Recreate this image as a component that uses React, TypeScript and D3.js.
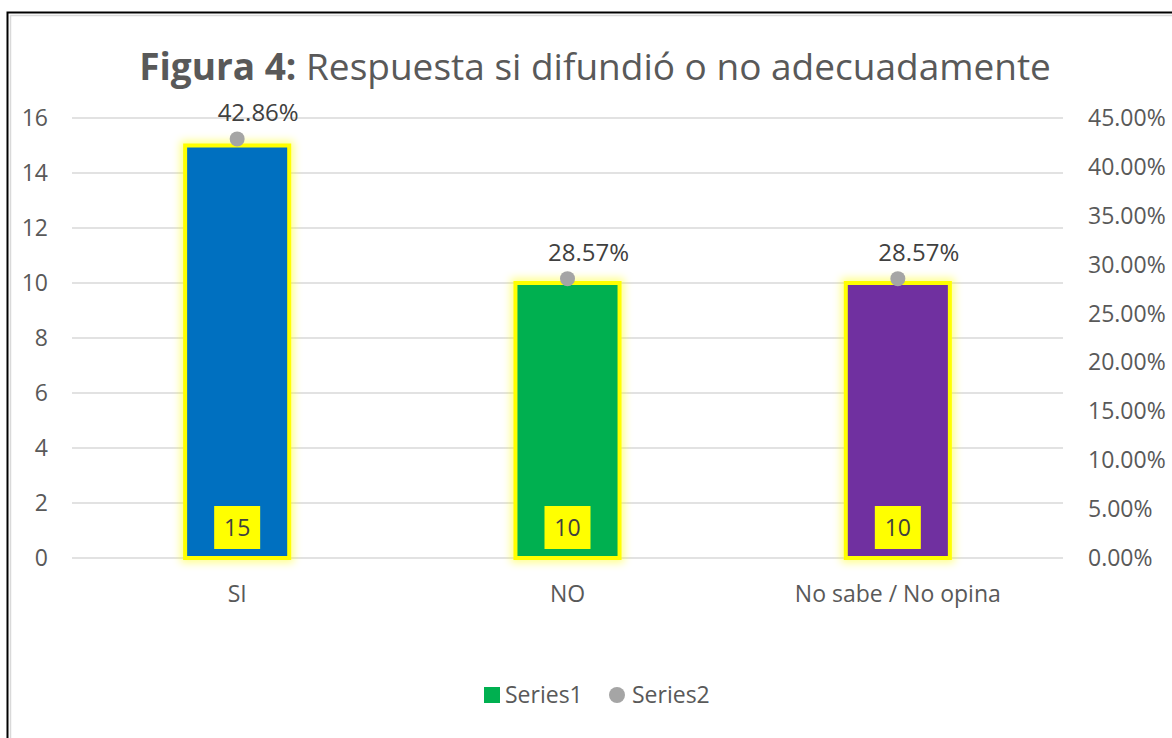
import React from "react";
import * as d3 from "d3";

const categories = ["SI", "NO", "No sabe / No opina"];
const series1 = [15, 10, 10];
const series2 = [0.4286, 0.2857, 0.2857];
const barColors = ["#0070C0", "#00B050", "#7030A0"];
const leftTicks = [0, 2, 4, 6, 8, 10, 12, 14, 16];
const rightTicks = [0, 0.05, 0.1, 0.15, 0.2, 0.25, 0.3, 0.35, 0.4, 0.45];

const W = 1172;
const H = 738;
const FONT = "'Open Sans', Lato, sans-serif";

export default function App() {
  const plotL = 72, plotR = 1063, plotT = 118, plotB = 558;
  const x = d3.scaleBand().domain(categories).range([plotL, plotR]).paddingInner(0.685).paddingOuter(0.3425);
  const y = d3.scaleLinear().domain([0, 16]).range([plotB, plotT]);
  const y2 = d3.scaleLinear().domain([0, 0.45]).range([plotB, plotT]);
  const bw = x.bandwidth();
  const fmt = d3.format(".2%");
  const fs = 23;
  return (
    <div style={{ position: "fixed", left: 0, top: 0, width: W, height: H, background: "#fff" }}>
      <svg width={W} height={H} style={{ display: "block" }}>
        <defs>
          <filter id="glow" x="-30%" y="-30%" width="160%" height="160%">
            <feGaussianBlur stdDeviation="4" />
          </filter>
        </defs>
        <rect x={0} y={0} width={W} height={H} fill="#fff" />
        <rect x={7.5} y={12.5} width={W + 20} height={H + 20} fill="none" stroke="#000" strokeWidth={2} />
        <rect x={10.5} y={15.5} width={W + 20} height={H + 20} fill="none" stroke="#d9d9d9" strokeWidth={1.5} />
        <text x={595} y={80} textAnchor="middle" fontFamily={FONT} fontSize={37} fill="#595959">
          <tspan fontWeight="bold">Figura 4:</tspan>
          <tspan> Respuesta si difundió o no adecuadamente</tspan>
        </text>
        {leftTicks.map((t) => (
          <g key={"l" + t}>
            <line x1={plotL} x2={plotR} y1={y(t)} y2={y(t)} stroke="#d9d9d9" strokeWidth={1.5} />
            <text x={48} y={y(t)} dy="0.35em" textAnchor="end" fontFamily={FONT} fontSize={fs} fill="#595959">{t}</text>
          </g>
        ))}
        {rightTicks.map((t) => (
          <text key={"r" + t} x={1088} y={y2(t)} dy="0.35em" textAnchor="start" fontFamily={FONT} fontSize={fs} fill="#595959">{fmt(t)}</text>
        ))}
        {categories.map((c, i) => {
          const bx = x(c)!;
          const by = y(series1[i]);
          const bh = y(0) - by;
          return (
            <g key={c}>
              <rect x={bx} y={by} width={bw} height={bh} fill="none" stroke="#FFFF00" strokeWidth={9} opacity={0.5} filter="url(#glow)" />
              <rect x={bx} y={by} width={bw} height={bh} fill={barColors[i]} stroke="#FFFF00" strokeWidth={4} />
              <rect x={bx + bw / 2 - 23} y={plotB - 52} width={46} height={43} fill="#FFFF00" />
              <text x={bx + bw / 2} y={plotB - 30.5} dy="0.35em" textAnchor="middle" fontFamily={FONT} fontSize={fs} fill="#404040">{series1[i]}</text>
              <text x={bx + bw / 2} y={plotB + 36} dy="0.35em" textAnchor="middle" fontFamily={FONT} fontSize={fs} fill="#595959">{c}</text>
            </g>
          );
        })}
        {categories.map((c, i) => {
          const cx = x(c)! + bw / 2;
          const cy = y2(series2[i]);
          return (
            <g key={"p" + c}>
              <circle cx={cx} cy={cy} r={7.5} fill="#A5A5A5" />
              <text x={cx + 21} y={cy - 26} dy="0.35em" textAnchor="middle" fontFamily={FONT} fontSize={24} fill="#404040">{fmt(series2[i])}</text>
            </g>
          );
        })}
        <g>
          <rect x={484} y={687} width={16} height={16} fill="#00B050" />
          <text x={505} y={695} dy="0.35em" fontFamily={FONT} fontSize={fs} fill="#595959">Series1</text>
          <circle cx={617} cy={695} r={8} fill="#A5A5A5" />
          <text x={632} y={695} dy="0.35em" fontFamily={FONT} fontSize={fs} fill="#595959">Series2</text>
        </g>
      </svg>
    </div>
  );
}
